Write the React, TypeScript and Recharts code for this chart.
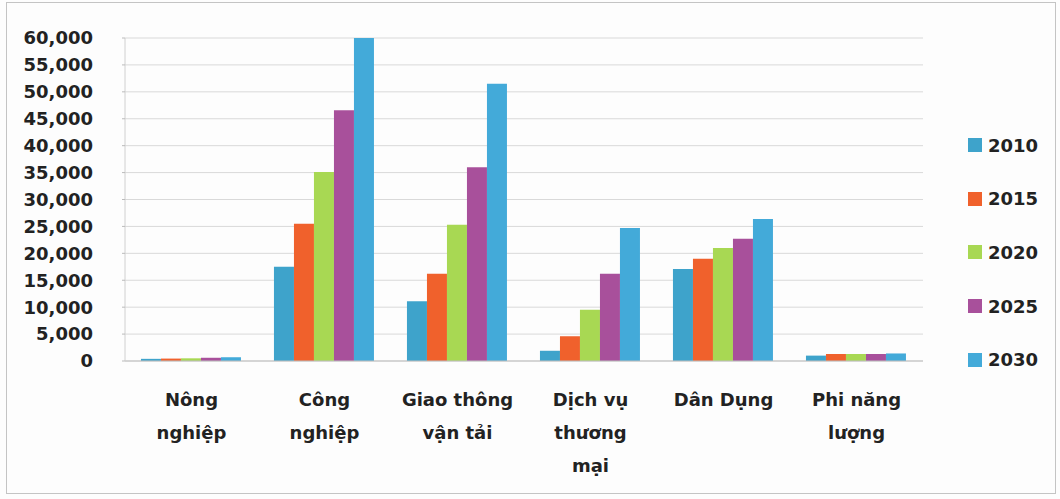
import React from 'react';
import { BarChart, Bar, XAxis, YAxis, CartesianGrid } from 'recharts';

const categories = ['Nông nghiệp', 'Công nghiệp', 'Giao thông vận tải', 'Dịch vụ thương mại', 'Dân Dụng', 'Phi năng lượng'];
const categoryLines = [['Nông', 'nghiệp'], ['Công', 'nghiệp'], ['Giao thông', 'vận tải'], ['Dịch vụ', 'thương', 'mại'], ['Dân Dụng'], ['Phi năng', 'lượng']];
const years = ['2010', '2015', '2020', '2025', '2030'];
const v2010 = [400, 17500, 11100, 1900, 17100, 1000];
const v2015 = [450, 25500, 16200, 4600, 19000, 1300];
const v2020 = [500, 35100, 25300, 9500, 21000, 1300];
const v2025 = [600, 46600, 36000, 16200, 22700, 1300];
const v2030 = [700, 60000, 51500, 24700, 26400, 1400];
const yTicks = [0, 5000, 10000, 15000, 20000, 25000, 30000, 35000, 40000, 45000, 50000, 55000, 60000];
const colors = ['#3ea3cb', '#f0612c', '#a8d853', '#a8509b', '#43aad9'];

const seriesValues = [v2010, v2015, v2020, v2025, v2030];
const data = categories.map((name, i) => {
  const row: Record<string, string | number> = { name };
  years.forEach((y, s) => { row[y] = seriesValues[s][i]; });
  return row;
});

const font = '"DejaVu Sans", sans-serif';

const CategoryTick = (props: any) => {
  const { x, y, payload } = props;
  const idx = categories.indexOf(payload.value);
  const lines = categoryLines[idx] || [payload.value];
  return (
    <text x={x} y={y} textAnchor="middle" fill="#222" fontFamily={font} fontWeight="bold" fontSize={18}>
      {lines.map((l, i) => (
        <tspan key={i} x={x} dy={i === 0 ? 37 : 33}>{l}</tspan>
      ))}
    </text>
  );
};

const App = () => {
  return (
    <div style={{ position: 'absolute', left: 0, top: 0, width: 1060, height: 499, background: '#fdfdfd' }}>
      <div style={{ position: 'absolute', left: 6, top: 2, width: 1048, height: 490, border: '1px solid #c4c4c4' }} />
      <BarChart
        width={1060}
        height={499}
        data={data}
        margin={{ top: 38, right: 137, left: 0, bottom: 0 }}
        barCategoryGap="12%"
        barGap={0}
      >
        <CartesianGrid vertical={false} stroke="#d9d9d9" />
        <XAxis
          dataKey="name"
          height={138}
          tickLine={false}
          axisLine={{ stroke: '#bfbfbf' }}
          tick={<CategoryTick />}
          interval={0}
        />
        <YAxis
          width={125}
          domain={[0, 60000]}
          ticks={yTicks}
          interval={0}
          axisLine={{ stroke: '#d0d0d0' }}
          tickLine={{ stroke: '#bbb' }}
          tickSize={3}
          tickMargin={29}
          tickFormatter={(v: number) => v.toLocaleString('en-US')}
          tick={{ fill: '#222', fontFamily: font, fontWeight: 'bold', fontSize: 18 }}
        />
        {years.map((y, i) => (
          <Bar key={y} dataKey={y} fill={colors[i]} isAnimationActive={false} />
        ))}
      </BarChart>
      {years.map((y, i) => (
        <div
          key={y}
          style={{
            position: 'absolute',
            left: 968,
            top: 145 + i * 53.7 - 12,
            height: 24,
            display: 'flex',
            alignItems: 'center',
            fontFamily: font,
            fontWeight: 'bold',
            fontSize: 18,
            color: '#222',
          }}
        >
          <span style={{ display: 'inline-block', width: 14, height: 14, background: colors[i], marginRight: 6 }} />
          {y}
        </div>
      ))}
    </div>
  );
};

export default App;
